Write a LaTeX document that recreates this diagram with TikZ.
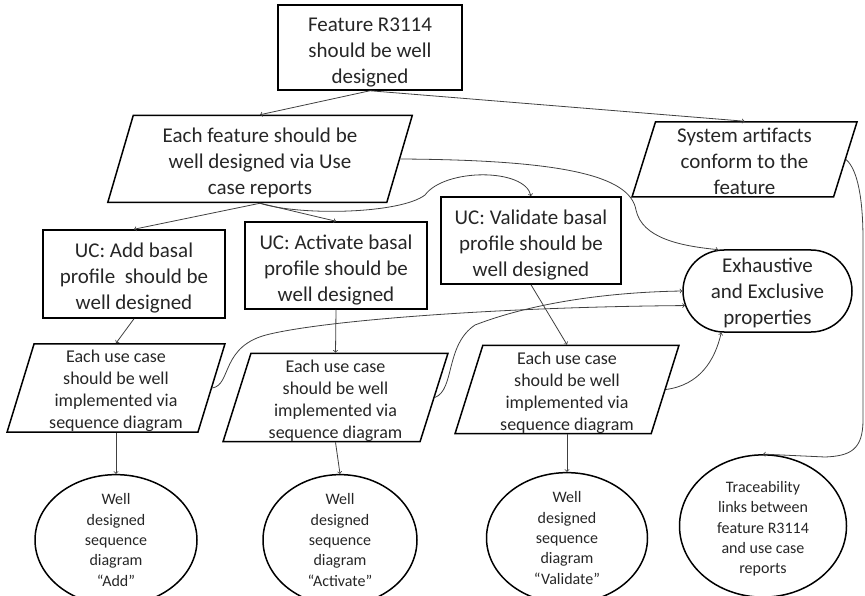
\documentclass[tikz,border=0pt]{standalone}
\usepackage{fontspec}
\setmainfont{Carlito}
\usetikzlibrary{shapes,arrows,positioning}

\begin{document}
\begin{tikzpicture}[x=1pt,y=-1pt,>=to,
	box/.style={draw,line width=1.5pt,align=center,inner sep=0pt,text=black!85,font=\fontsize{21}{26}\selectfont,text height=75pt},
	para/.style={draw,trapezium,trapezium left angle=76,trapezium right angle=104,trapezium stretches=true,line width=1.5pt,align=center,inner sep=0pt,text=black!85},
	oval/.style={draw,ellipse,line width=1.5pt,align=center,inner sep=0pt,text=black!85,font=\fontsize{16}{20.3}\selectfont},
	link/.style={->,line width=0.8pt,draw=black!75}]
	\useasboundingbox (0,0) rectangle (865,596);
	
	\node[box,minimum width=184pt,minimum height=85pt] (feature) at (370,47.5) {Feature R3114\\should be well\\designed};
	\node[para,minimum width=305pt,minimum height=87pt,font=\fontsize{21}{26}\selectfont,text height=75pt] (viauc) at (260,159) {Each feature should be\\well designed via Use\\case reports};
	\node[para,minimum width=225pt,minimum height=75pt,font=\fontsize{21}{26}\selectfont,text height=71pt] (artifacts) at (744.5,159.5) {System artifacts\\conform to the\\feature};
	
	\node[box,minimum width=182pt,minimum height=88pt] (ucadd) at (134,274) {UC: Add basal\\profile \ should be\\well designed};
	\node[box,minimum width=182pt,minimum height=87pt] (ucact) at (336,265.5) {UC: Activate basal\\profile should be\\well designed};
	\node[box,minimum width=180pt,minimum height=87pt] (ucval) at (531,240.5) {UC: Validate basal\\profile should be\\well designed};
	\node[box,rounded rectangle,minimum width=169pt,minimum height=82pt,text height=71pt] (exh) at (767.5,291) {Exhaustive\\and Exclusive\\properties};
	
	% use case -> sequence diagram
	\foreach \nm/\x/\y/\w in {add/116/388/218,act/335.5/397.5/225,val/567/389.5/224}
		\node[para,minimum width=\w pt,minimum height=88pt,font=\fontsize{18}{22}\selectfont,text height=85pt] (seq\nm) at (\x,\y) {Each use case\\should be well\\implemented via\\sequence diagram};
	
	\node[oval,minimum width=162pt,minimum height=110pt] (welladd) at (116,540) {Well\\designed\\sequence\\diagram\\“Add”};
	\node[oval,minimum width=154pt,minimum height=110pt] (wellact) at (340,540) {Well\\designed\\sequence\\diagram\\“Activate”};
	\node[oval,minimum width=161pt,minimum height=110pt] (wellval) at (567,538) {Well\\designed\\sequence\\diagram\\“Validate”};
	\node[oval,minimum width=167pt,minimum height=128pt,text height=98pt] (trace) at (763,526) {Traceability\\links between\\feature R3114\\and use case\\reports};
	
	\draw[link] (feature.south) -- (viauc.north);
	\draw[link] (feature.south) -- (artifacts.north);
	\draw[link] (viauc.south) -- (ucadd.north);
	\draw[link] (viauc.south) -- (ucact.north);
	\draw[link] (viauc.east) .. controls (560,160) and (630,175) .. (636,210) .. controls (642,238) and (680,246) .. (exh.140);
	\draw[link] (viauc.south) .. controls (300,216) and (400,214) .. (425,195) .. controls (445,168) and (525,168) .. (ucval.north);
	
	\draw[link] (ucadd.south) -- (seqadd.north);
	\draw[link] (ucact.south) -- (seqact.north);
	\draw[link] (ucval.south) -- (seqval.north);
	
	\draw[link] (seqadd.east) .. controls (232,385) and (220,345) .. (270,334) .. controls (330,320) and (500,307) .. (exh.190);
	\draw[link] (seqact.east) .. controls (455,390) and (445,345) .. (475,325) .. controls (540,300) and (620,292) .. (exh.west);
	\draw[link] (seqval.east) .. controls (700,385) and (715,360) .. (exh.222);
	\draw[link] (artifacts.east) .. controls (858,170) and (863,200) .. (863,240) -- (863,420) .. controls (863,450) and (850,456) .. (825,457) -- (trace.north);
	
	\draw[link] (welladd.north |- seqadd.south) -- (welladd.north);
	\draw[link] (seqact.south) -- (wellact.north);
	\draw[link] (wellval.north |- seqval.south) -- (wellval.north);
\end{tikzpicture}
\end{document}
